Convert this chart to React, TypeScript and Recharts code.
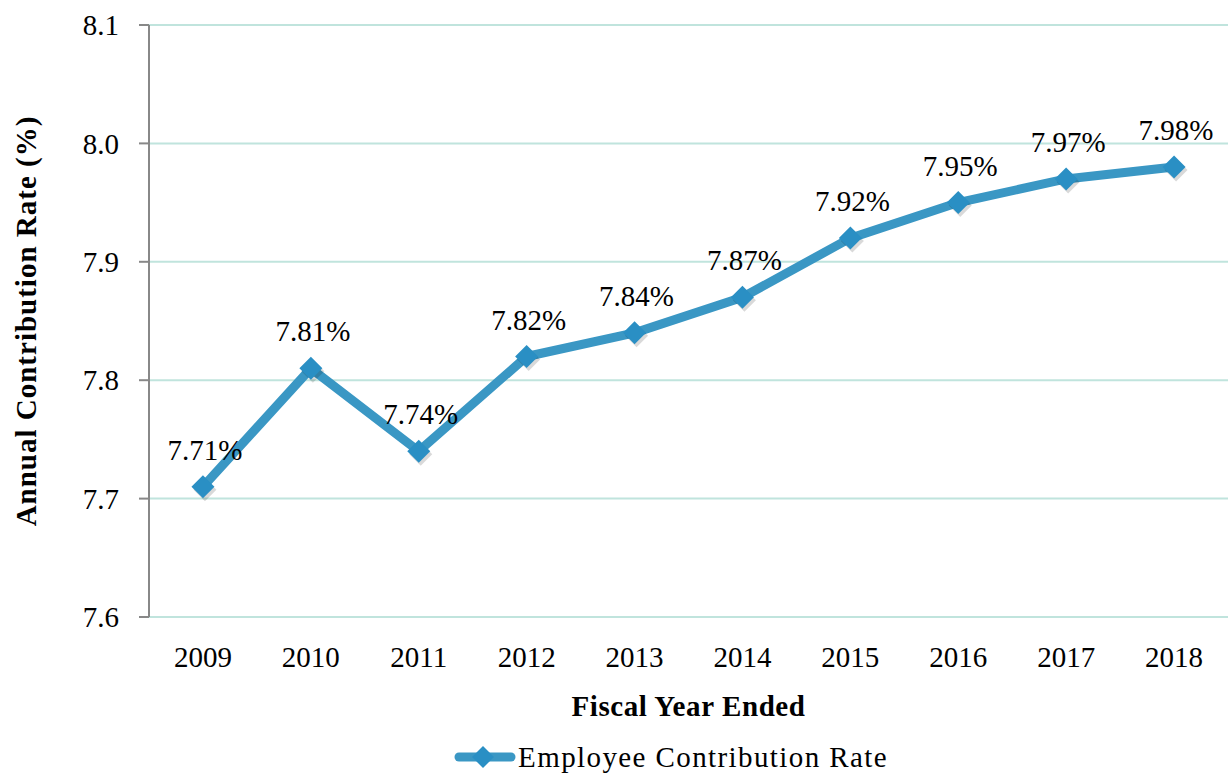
import React from "react";
import { LineChart, Line, XAxis, YAxis, CartesianGrid, LabelList } from "recharts";

const years = ["2009", "2010", "2011", "2012", "2013", "2014", "2015", "2016", "2017", "2018"];
const rates = [7.71, 7.81, 7.74, 7.82, 7.84, 7.87, 7.92, 7.95, 7.97, 7.98];
const yTicks = [7.6, 7.7, 7.8, 7.9, 8.0, 8.1];
const seriesName = "Employee Contribution Rate";

const data = years.map((y, i) => ({ year: y, pos: i + 0.5, rate: rates[i] }));
const labelTicks = years.map((_, i) => i + 0.5);
const boundaryTicks = [...years.map((_, i) => i), years.length];

const FONT = "'Liberation Serif', 'Times New Roman', serif";
const LINE_COLOR = "#3A97C4";
const MARKER_COLOR = "#2A8FC4";

const Diamond = (props: any) => {
  const { cx, cy } = props;
  if (cx == null || cy == null) return null;
  const r = 11.5;
  return (
    <g>
      <polygon
        points={`${cx + 2},${cy - r + 3} ${cx + r + 2},${cy + 3} ${cx + 2},${cy + r + 3} ${cx - r + 2},${cy + 3}`}
        fill="#000"
        opacity={0.15}
      />
      <polygon
        points={`${cx},${cy - r} ${cx + r},${cy} ${cx},${cy + r} ${cx - r},${cy}`}
        fill={MARKER_COLOR}
      />
    </g>
  );
};

const renderLabel = (props: any) => {
  const { x, y, value } = props;
  return (
    <text
      x={x + 2}
      y={y - 27}
      textAnchor="middle"
      fontFamily={FONT}
      fontSize={29}
      fill="#000"
    >
      {`${Number(value).toFixed(2)}%`}
    </text>
  );
};

const LegendRow = () => (
  <div
    style={{
      position: "absolute",
      left: 0,
      top: 741,
      width: 1342,
      display: "flex",
      justifyContent: "center",
      alignItems: "center",
      fontFamily: FONT,
      fontSize: 29,
      letterSpacing: 1.4,
      color: "#000",
      pointerEvents: "none",
      lineHeight: "32px",
    }}
  >
    <svg width={62} height={30} style={{ marginRight: 2 }}>
      <line x1={5} y1={15} x2={57} y2={15} stroke={LINE_COLOR} strokeWidth={9} strokeLinecap="round" />
      <polygon points="29,4 40,15 29,26 18,15" fill={MARKER_COLOR} />
    </svg>
    <span>{seriesName}</span>
  </div>
);

export default function App() {
  return (
    <div style={{ position: "absolute", left: 0, top: 0, width: 1228, height: 773, background: "#fff" }}>
      <LineChart
        width={1228}
        height={773}
        data={data}
        margin={{ top: 25, right: 0, bottom: 0, left: 0 }}
      >
        <CartesianGrid vertical={false} xAxisId="labels" stroke="#C0E4DD" strokeWidth={2} />
        <XAxis
          xAxisId="ticks"
          type="number"
          dataKey="pos"
          domain={[0, years.length]}
          ticks={boundaryTicks}
          height={0}
          tick={false}
          axisLine={{ stroke: "#888", strokeWidth: 2 }}
          tickLine={{ stroke: "#888", strokeWidth: 2 }}
          tickSize={10}
        />
        <XAxis
          xAxisId="labels"
          type="number"
          dataKey="pos"
          domain={[0, years.length]}
          ticks={labelTicks}
          height={156}
          axisLine={false}
          tickLine={false}
          tickFormatter={(v: number) => years[Math.floor(v)]}
          tick={{ fontFamily: FONT, fontSize: 29, fill: "#000", dy: 21 }}
          interval={0}
          label={{
            value: "Fiscal Year Ended",
            position: "insideTop",
            offset: 78,
            style: { fontFamily: FONT, fontSize: 29, fontWeight: "bold", fill: "#000", letterSpacing: 0.6 },
          }}
        />
        <YAxis
          domain={[7.6, 8.1]}
          ticks={yTicks}
          width={149}
          axisLine={{ stroke: "#888", strokeWidth: 2 }}
          tickLine={{ stroke: "#888", strokeWidth: 2 }}
          tickSize={10}
          tickFormatter={(v: number) => v.toFixed(1)}
          tick={{ fontFamily: FONT, fontSize: 29, fill: "#000", dx: -18 }}
          label={{
            value: "Annual Contribution Rate (%)",
            angle: -90,
            position: "insideLeft",
            offset: 0,
            dx: 26,
            style: { fontFamily: FONT, fontSize: 29, fontWeight: "bold", fill: "#000", textAnchor: "middle", letterSpacing: 1 },
          }}
        />
        <Line
          xAxisId="labels"
          type="linear"
          dataKey="rate"
          name={seriesName}
          stroke={LINE_COLOR}
          strokeWidth={9}
          dot={<Diamond />}
          activeDot={false}
          isAnimationActive={false}
        >
          <LabelList dataKey="rate" content={renderLabel} />
        </Line>
      </LineChart>
      <LegendRow />
    </div>
  );
}
